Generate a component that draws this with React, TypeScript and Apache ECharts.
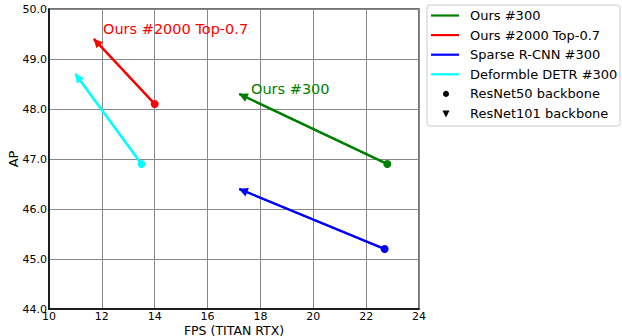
import React, { useEffect, useRef } from "react";
import * as echarts from "echarts";

const seriesNames = ["Ours #300", "Ours #2000 Top-0.7", "Sparse R-CNN #300", "Deformble DETR #300"];
const seriesColors = ["#008000", "#ff0000", "#0000ff", "#00ffff"];
// [FPS, AP] for ResNet50 backbone (start) and ResNet101 backbone (end)
const r50Points: number[][] = [
  [22.8, 46.9],
  [14.0, 48.1],
  [22.7, 45.2],
  [13.5, 46.9],
];
const r101Points: number[][] = [
  [17.2, 48.3],
  [11.7, 49.4],
  [17.2, 46.4],
  [11.0, 48.7],
];
const backboneNames = ["ResNet50 backbone", "ResNet101 backbone"];
const annotations = [
  { text: "Ours #2000 Top-0.7", color: "#ff0000" },
  { text: "Ours #300", color: "#008000" },
];
const xTicks = { min: 10, max: 24, interval: 2 };
const yTicks = { min: 44, max: 50, interval: 1 };

const FONT = "DejaVu Sans";

export default function App() {
  const ref = useRef<HTMLDivElement>(null);
  useEffect(() => {
    if (!ref.current) return;
    const chart = echarts.init(ref.current, null, { renderer: "svg" });

    const series: any[] = seriesNames.map((name, i) => ({
      name,
      type: "line",
      data: [
        { value: r50Points[i], symbol: "circle", symbolSize: 8 },
        { value: r101Points[i], symbol: "none" },
      ],
      lineStyle: { color: seriesColors[i], width: 2.2 },
      itemStyle: { color: seriesColors[i] },
      silent: true,
      z: 3,
      markLine: {
        silent: true,
        symbol: ["none", "triangle"],
        symbolSize: 9,
        symbolOffset: [0, [0, 4]],
        label: { show: false },
        lineStyle: { color: seriesColors[i], width: 2.2, type: "solid" },
        itemStyle: { color: seriesColors[i] },
        data: [[{ coord: r50Points[i] }, { coord: r101Points[i] }]],
      },
    }));

    const legendX = 431;
    const legendY = 15.5;
    const gap = 19.6;
    const legendChildren: any[] = [
      {
        type: "rect",
        shape: { x: 427, y: 5, width: 193, height: 121, r: 3 },
        style: { fill: "#ffffff", stroke: "#cccccc", lineWidth: 1 },
      },
    ];
    seriesNames.forEach((n, i) => {
      const y = legendY + i * gap;
      legendChildren.push({
        type: "line",
        shape: { x1: legendX, y1: y, x2: legendX + 28, y2: y },
        style: { stroke: seriesColors[i], lineWidth: 2.2 },
      });
      legendChildren.push({
        type: "text",
        style: { text: n, x: 470, y, fill: "#000", font: `13px "${FONT}"`, textVerticalAlign: "middle" },
      });
    });
    const yDot = legendY + 4 * gap;
    const yTri = legendY + 5 * gap;
    legendChildren.push({ type: "circle", shape: { cx: 446, cy: yDot, r: 3 }, style: { fill: "#000" } });
    legendChildren.push({
      type: "polygon",
      shape: { points: [[442.5, yTri - 3], [449.5, yTri - 3], [446, yTri + 4]] },
      style: { fill: "#000" },
    });
    backboneNames.forEach((n, i) => {
      legendChildren.push({
        type: "text",
        style: { text: n, x: 470, y: i === 0 ? yDot : yTri, fill: "#000", font: `13px "${FONT}"`, textVerticalAlign: "middle" },
      });
    });

    const option: any = {
      animation: false,
      backgroundColor: "#ffffff",
      textStyle: { fontFamily: FONT },
      grid: {
        left: 49,
        right: 203,
        top: 9,
        bottom: 27,
        outerBoundsMode: "none",
        containLabel: false,
        show: true,
        borderColor: "#444444",
        borderWidth: 1.5,
        backgroundColor: "transparent",
      },
      xAxis: {
        type: "value",
        min: xTicks.min,
        max: xTicks.max,
        interval: xTicks.interval,
        name: "FPS (TITAN RTX)",
        nameLocation: "middle",
        nameGap: 15,
        nameMoveOverlap: false,
        nameTextStyle: { fontSize: 12.5, lineHeight: 12, color: "#000", fontFamily: FONT, verticalAlign: "top" },
        axisLine: { show: true, lineStyle: { color: "#000", width: 1.5 } },
        axisTick: { show: false },
        axisLabel: { fontSize: 11, lineHeight: 11, color: "#000", margin: 2, fontFamily: FONT },
        splitLine: { show: true, lineStyle: { color: "#888888", width: 1 } },
      },
      yAxis: {
        type: "value",
        min: yTicks.min,
        max: yTicks.max,
        interval: yTicks.interval,
        name: "AP",
        nameLocation: "middle",
        nameGap: 29,
        nameMoveOverlap: false,
        nameRotate: 90,
        nameTextStyle: { fontSize: 13, color: "#000", fontFamily: FONT },
        axisLine: { show: true, lineStyle: { color: "#000", width: 1.5 } },
        axisTick: { show: false },
        axisLabel: {
          fontSize: 11,
          color: "#000",
          margin: 2,
          fontFamily: FONT,
          formatter: (v: number) => v.toFixed(1),
        },
        splitLine: { show: true, lineStyle: { color: "#888888", width: 1 } },
      },
      series,
      graphic: [
        {
          type: "text",
          style: {
            text: annotations[0].text,
            x: 103,
            y: 29,
            fill: annotations[0].color,
            font: `14.5px "${FONT}"`,
            textVerticalAlign: "middle",
          },
          z: 10,
        },
        {
          type: "text",
          style: {
            text: annotations[1].text,
            x: 251,
            y: 89,
            fill: annotations[1].color,
            font: `14.5px "${FONT}"`,
            textVerticalAlign: "middle",
          },
          z: 10,
        },
        { type: "group", children: legendChildren, z: 20 },
      ],
    };
    chart.setOption(option);
    return () => chart.dispose();
  }, []);
  return <div ref={ref} style={{ width: 622, height: 336, position: "absolute", left: 0, top: 0 }} />;
}
